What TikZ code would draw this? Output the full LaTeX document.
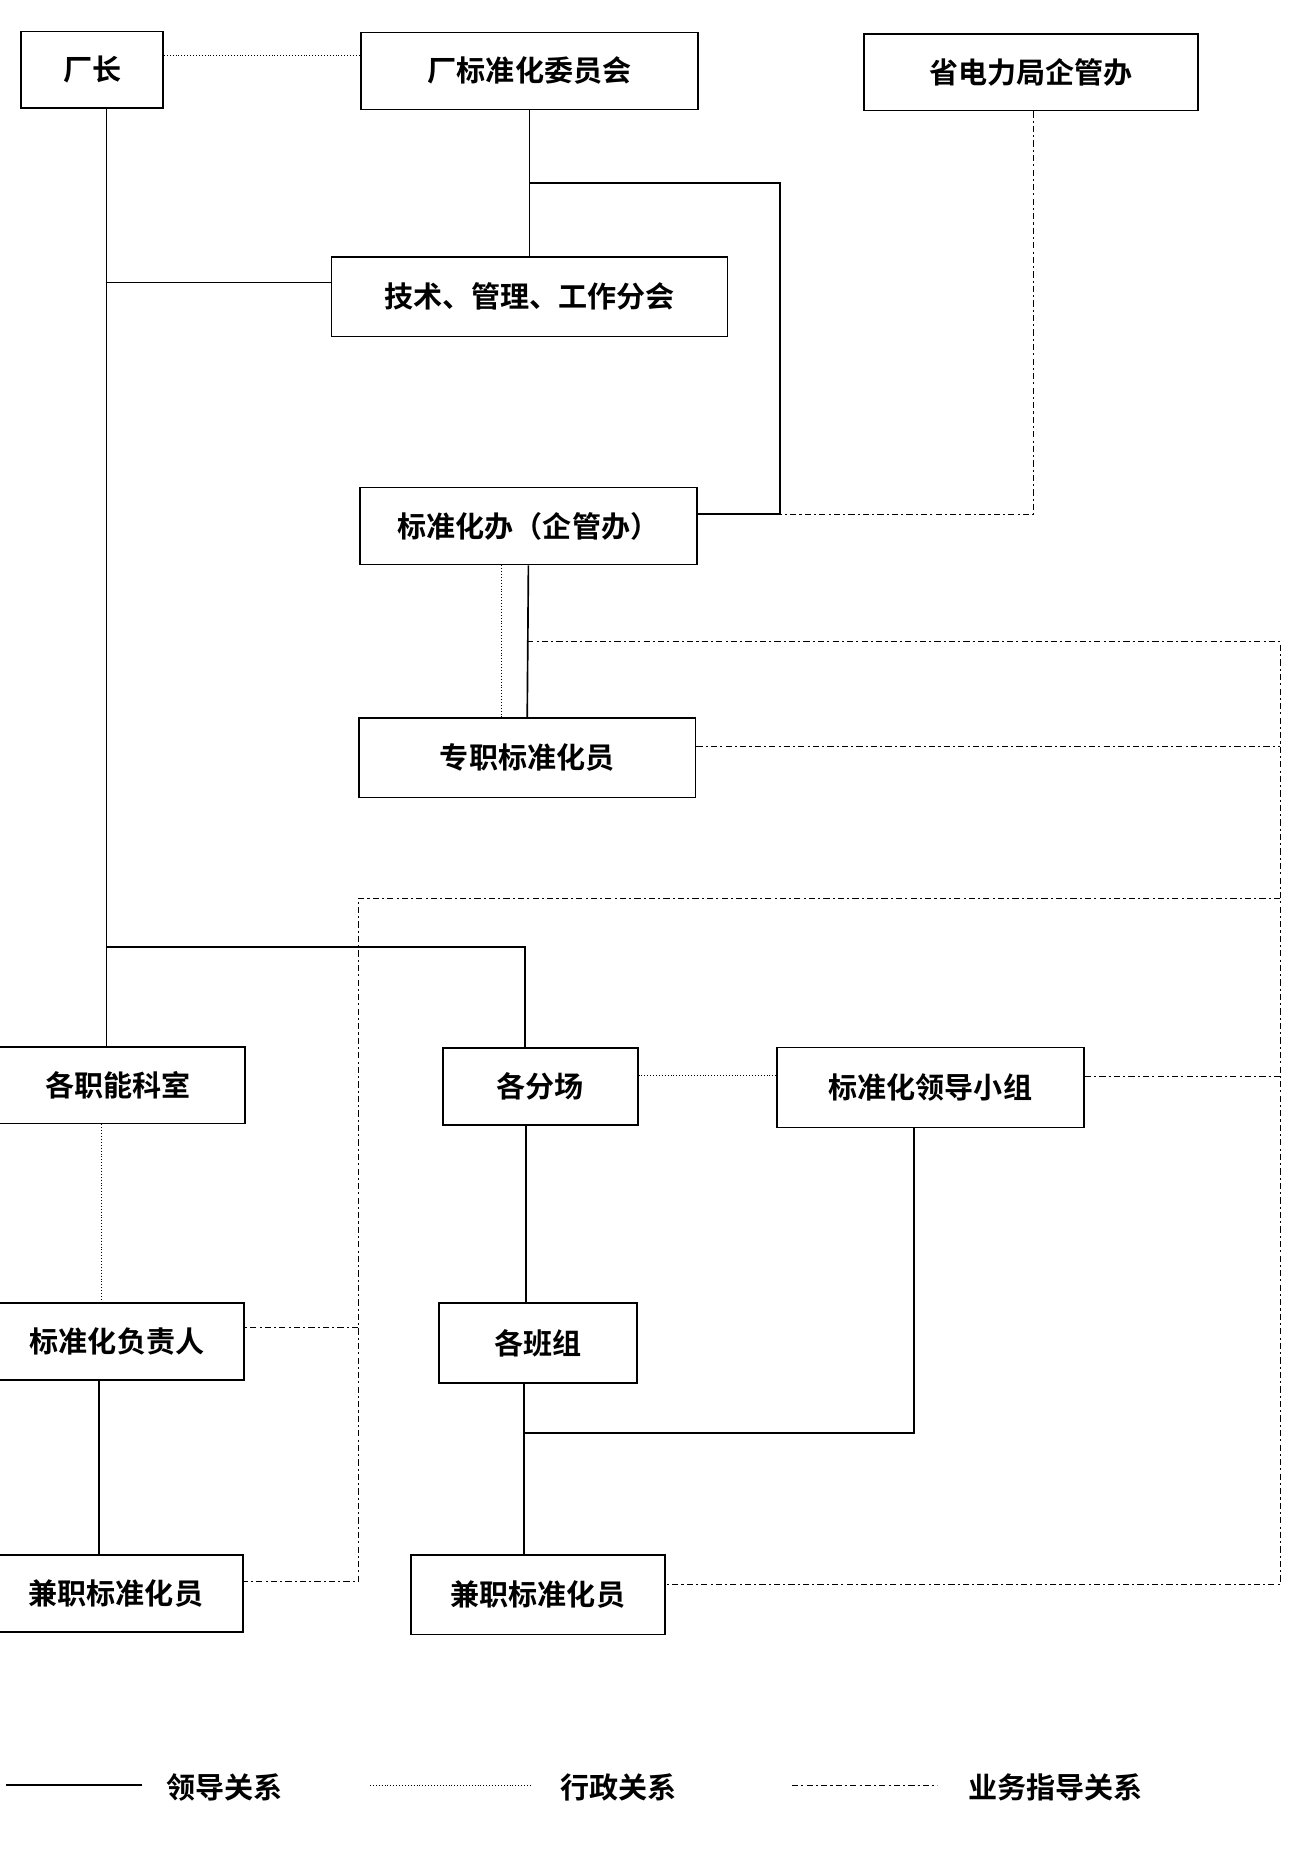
\documentclass[tikz,border=0pt]{standalone}
\usepackage{fontspec}
\newfontfamily\cjk{Noto Sans CJK SC}[BoldFont=* Bold]
\usetikzlibrary{positioning}
\begin{document}
\begin{tikzpicture}[x=0.02cm,y=-0.02cm,thick,font=\cjk\bfseries\fontsize{14}{16}\selectfont]
	\tikzstyle{box}=[draw,thick,minimum height=1.3cm,inner sep=2pt]
	\tikzstyle{lead}=[thick]
	\tikzstyle{admin}=[thin,densely dotted]
	\tikzstyle{guide}=[thin,dash pattern=on 3pt off 1.5pt on 1pt off 1.5pt]
	\useasboundingbox (0,0) rectangle (1090,1565);

	\node[box,minimum width=2.4cm] (CZ) at (78,59) {厂长};
	\node[box,minimum width=5.7cm] (WYH) at (448,60) {厂标准化委员会};
	\node[box,minimum width=5.65cm] (SJ) at (872,61) {省电力局企管办};
	\node[box,minimum width=6.7cm,minimum height=1.35cm] (FH) at (448,251) {技术、管理、工作分会};
	\node[box,minimum width=5.7cm] (BZB) at (447,445) {标准化办（企管办）};
	\node[box,minimum width=5.7cm,minimum height=1.35cm] (ZZ) at (446,641) {专职标准化员};
	\node[box,minimum width=4.3cm] (KS) at (100,918) {各职能科室};
	\node[box,minimum width=3.3cm] (FC) at (457,919) {各分场};
	\node[box,minimum width=5.2cm,minimum height=1.35cm] (LD) at (787,920) {标准化领导小组};
	\node[box,minimum width=4.3cm] (FZR) at (99,1135) {标准化负责人};
	\node[box,minimum width=4.3cm] (JZL) at (98,1348) {兼职标准化员};
	\node[box,minimum width=3.35cm,minimum height=1.35cm] (BZ) at (455,1136) {各班组};
	\node[box,minimum width=4.3cm,minimum height=1.35cm] (JZR) at (455,1349) {兼职标准化员};

	\coordinate (a1) at (90,239);
	\coordinate (a2) at (90,801);
	\coordinate (b1) at (448,155);
	\coordinate (b2) at (660,155);
	\coordinate (b3) at (660,435);
	\coordinate (c1) at (874,435);
	\coordinate (d1) at (446,543);
	\coordinate (d2) at (1083,543);
	\coordinate (d3) at (1083,1340);
	\coordinate (e1) at (1083,760);
	\coordinate (e2) at (303,760);
	\coordinate (e3) at (303,1338);
	\coordinate (f1) at (773,1212);
	\coordinate (f2) at (443,1212);

	% 领导关系
	\draw[lead] (CZ.south -| a1) -- (a1 |- KS.north);
	\draw[lead] (a1) -- (a1 -| FH.west);
	\draw[lead] (WYH) -- (FH);
	\draw[lead] (b1) -- (b2) -- (b3) -- (b3 -| BZB.east);
	\draw[lead] (BZB.south) -- (ZZ.north);
	\draw[lead] (a2) -- (444,801) -- (444,886);
	\draw[lead] (FZR.south -| 84,0) -- (JZL.north -| 84,0);
	\draw[lead] (FC.south -| 445,0) -- (BZ.north -| 445,0);
	\draw[lead] (BZ.south -| f2) -- (JZR.north -| f2);
	\draw[lead] (LD.south -| f1) -- (f1) -- (f2);
	% 行政关系
	\draw[admin] (CZ.east |- 0,47) -- (WYH.west |- 0,47);
	\draw[admin] (BZB.south -| 424,0) -- (ZZ.north -| 424,0);
	\draw[admin] (FC.east |- 0,910) -- (LD.west |- 0,910);
	\draw[admin] (KS.south -| 86,0) -- (FZR.north -| 86,0);
	% 业务指导关系
	\draw[guide] (SJ.south -| c1) -- (c1) -- (b3);
	\draw[guide] (d1) -- (d2) -- (d3) -- (d3 -| JZR.east);
	\draw[guide] (ZZ.east |- 0,631) -- (1083,631);
	\draw[guide] (LD.east |- 0,911) -- (1083,911);
	\draw[guide] (e1) -- (e2) -- (e3) -- (e3 -| JZL.east);
	\draw[guide] (303,1123) -- (FZR.east |- 0,1123);

	% 图例
	\coordinate (l1) at (5,1510);
	\coordinate (l2) at (120,1510);
	\coordinate (l3) at (313,1510);
	\coordinate (l4) at (450,1510);
	\coordinate (l5) at (670,1510);
	\coordinate (l6) at (793,1510);
	\draw[lead] (l1) -- (l2);
	\draw[admin] (l3) -- (l4);
	\draw[guide] (l5) -- (l6);
	\node (T1) at (190,1512) {领导关系};
	\node (T2) at (523,1512) {行政关系};
	\node (T3) at (893,1512) {业务指导关系};
\end{tikzpicture}
\end{document}
